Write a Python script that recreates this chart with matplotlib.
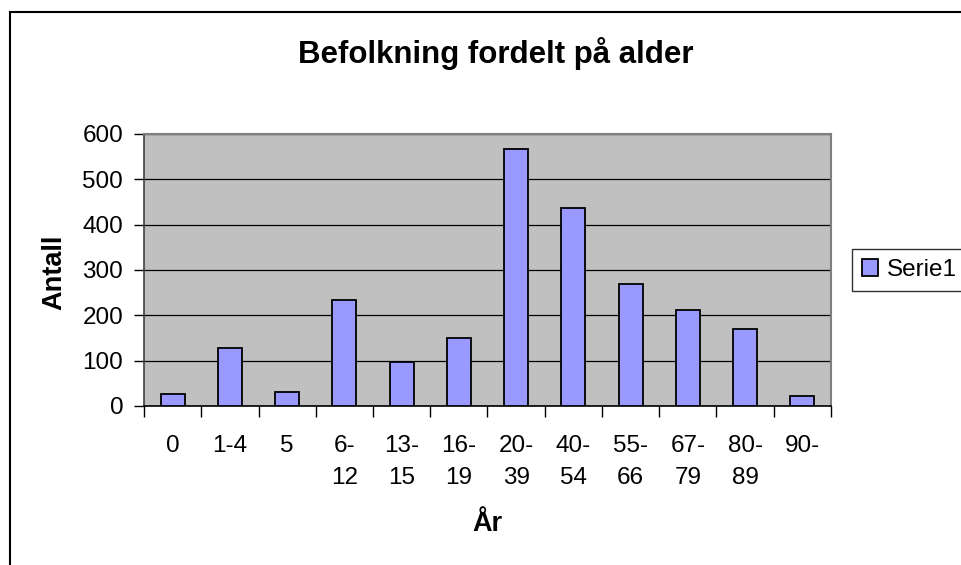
import matplotlib
matplotlib.use("Agg")
import matplotlib.pyplot as plt
from matplotlib.patches import Rectangle
import numpy as np

categories = ["0", "1-4", "5", "6-\n12", "13-\n15", "16-\n19", "20-\n39", "40-\n54",
              "55-\n66", "67-\n79", "80-\n89", "90-"]
values = [26, 127, 31, 233, 98, 150, 566, 437, 269, 212, 169, 23]
yticks = [0, 100, 200, 300, 400, 500, 600]

plt.rcParams['font.family'] = ['Liberation Sans', 'DejaVu Sans']

W, H = 962, 565
fig = plt.figure(figsize=(W / 100, H / 100), dpi=100)
fig.patch.set_facecolor("white")

# outer chart border (cropped on right and bottom)
fig.patches.append(Rectangle((10 / W, -0.1), 1.2, 1 - 12 / H + 0.1,
                             transform=fig.transFigure, fill=False,
                             edgecolor="black", linewidth=1.5))

ax = fig.add_axes([144 / W, 1 - 406 / H, (831 - 144) / W, (406 - 134) / H])
ax.set_facecolor("#C0C0C0")

x = np.arange(len(categories))
ax.bar(x, values, width=0.42, color="#9999FF", edgecolor="black",
       linewidth=1.3, label="Serie1", zorder=3)

ax.set_xlim(-0.5, len(categories) - 0.5)
ax.set_ylim(0, 600)
ax.set_yticks(yticks)
ax.yaxis.grid(True, color="black", linewidth=0.9, zorder=1)
ax.set_axisbelow(True)

ax.set_xticks(x)
ax.set_xticklabels(categories, linespacing=1.6)
ax.set_xticks(np.arange(len(categories) + 1) - 0.5, minor=True)
ax.tick_params(axis="x", which="major", length=0, pad=21, labelsize=17.5)
ax.tick_params(axis="x", which="minor", length=8, width=1, color="black", direction="out")
ax.tick_params(axis="y", length=7, width=1, color="black", direction="out",
               labelsize=17.5, pad=8)

for side in ["top", "right"]:
    ax.spines[side].set_color("#808080")
    ax.spines[side].set_linewidth(1.5)
ax.spines["left"].set_color("#404040")
ax.spines["left"].set_linewidth(1.2)
ax.spines["bottom"].set_color("black")
ax.spines["bottom"].set_linewidth(1.2)

fig.text(496 / W, 1 - 54 / H, "Befolkning fordelt på alder", ha="center", va="center",
         fontsize=22.5, fontweight="bold")
fig.text(54 / W, 1 - 272 / H, "Antall", ha="center", va="center", rotation=90,
         fontsize=19.5, fontweight="bold")
fig.text(487 / W, 1 - 524 / H, "År", ha="center", va="center",
         fontsize=19.5, fontweight="bold")

leg = fig.legend(loc="center left", bbox_to_anchor=(852 / W, 1 - 270 / H),
                 fontsize=17.5, frameon=True, fancybox=False, handlelength=0.65,
                 handleheight=0.65, handletextpad=0.4, borderpad=0.4,
                 borderaxespad=0)
leg.get_frame().set_edgecolor("black")
leg.get_frame().set_linewidth(1.0)

fig.savefig("out.png", dpi=100)
